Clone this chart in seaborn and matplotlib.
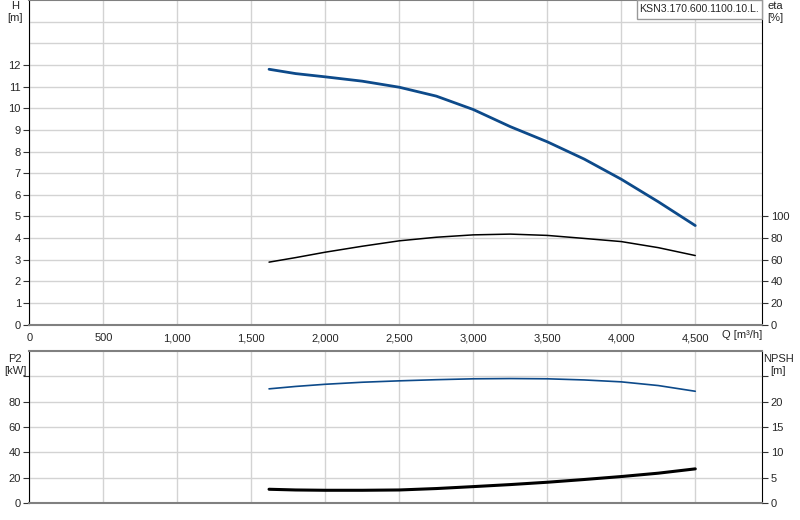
import matplotlib
matplotlib.use("Agg")
import matplotlib.pyplot as plt
from matplotlib.patches import Rectangle
import seaborn as sns
import pandas as pd

# pump curve data
q = [1620, 1800, 2000, 2250, 2500, 2750, 3000, 3250, 3500, 3750, 4000, 4250, 4500]
head = [11.8, 11.6, 11.45, 11.25, 10.97, 10.56, 9.94, 9.15, 8.45, 7.65, 6.72, 5.68, 4.58]
eta = [57.8, 62.0, 67.0, 72.5, 77.5, 80.8, 83.0, 83.7, 82.5, 79.7, 76.8, 71.2, 63.9]
p2 = [90.0, 91.9, 93.6, 95.2, 96.3, 97.2, 97.9, 98.1, 97.9, 97.0, 95.5, 92.6, 88.1]
npsh = [2.76, 2.62, 2.56, 2.56, 2.62, 2.9, 3.28, 3.68, 4.14, 4.68, 5.26, 5.92, 6.77]

q_ticks = [0, 500, 1000, 1500, 2000, 2500, 3000, 3500, 4000, 4500]
q_labels = ["0", "500", "1,000", "1,500", "2,000", "2,500", "3,000", "3,500", "4,000", "4,500"]
model_name = "KSN3.170.600.1100.10.L."

df = pd.DataFrame({"Q": q, "H": head, "eta": eta, "P2": p2, "NPSH": npsh})

sns.set_style("white")
plt.rcParams["font.family"] = ["Liberation Sans", "DejaVu Sans"]
plt.rcParams["font.size"] = 8

BLUE = "#0d4a8a"
GRID = "#d3d3d3"
SPINE_GRAY = "#808080"

W, H = 800, 520
fig = plt.figure(figsize=(8, 5.2), dpi=100)
x0, x1 = 29.3 / W, 762.3 / W
ax_top = fig.add_axes([x0, 1 - 324.7 / H, x1 - x0, 324.7 / H])
ax_bot = fig.add_axes([x0, 1 - 503.3 / H, x1 - x0, (503.3 - 350.7) / H])

xmax = 4953


def style_axes(ax):
    ax.set_xlim(0, xmax)
    ax.set_xticks(q_ticks)
    ax.grid(True, color=GRID, lw=1)
    ax.set_axisbelow(True)
    for s in ["top", "bottom"]:
        ax.spines[s].set_color(SPINE_GRAY)
        ax.spines[s].set_linewidth(1.5)
    ax.spines["left"].set_color("black")
    ax.spines["right"].set_color("black")
    ax.tick_params(axis="both", length=4, width=0.8, color="#333333", pad=2,
                   labelsize=8)
    ax.set_xlabel("")
    ax.set_ylabel("")


def style_twin(ax):
    ax.set_ylabel("")
    ax.grid(False)
    for s in ax.spines.values():
        s.set_visible(False)
    ax.tick_params(axis="y", length=4, width=0.8, color="#333333", pad=2, labelsize=8)


# --- top chart: head and efficiency ---
sns.lineplot(data=df, x="Q", y="H", ax=ax_top, color=BLUE, lw=2)
style_axes(ax_top)
ax_top.set_ylim(0, 15)
ax_top.set_yticks(range(0, 13))
ax_top.set_yticks([13, 14], minor=True)
ax_top.tick_params(axis="y", which="minor", length=0)
ax_top.grid(True, which="minor", axis="y", color=GRID, lw=1)
ax_top.set_xticklabels(q_labels)

ax_eta = ax_top.twinx()
sns.lineplot(data=df, x="Q", y="eta", ax=ax_eta, color="black", lw=1.1)
ax_eta.set_ylim(0, 300)
ax_eta.set_yticks(range(0, 101, 20))
style_twin(ax_eta)

fig.text(15 / W, 1 - 12 / H, "H\n[m]", ha="center", va="center", fontsize=8,
         linespacing=1.2)
fig.text(775 / W, 1 - 12 / H, "eta\n[%]", ha="center", va="center", fontsize=8,
         linespacing=1.2)
fig.text(722 / W, 1 - 335 / H, "Q [m³/h]", ha="left", va="center", fontsize=8)

# model name box in the top right corner
fig.patches.append(Rectangle((637 / W, 1 - 19 / H), 125 / W, 19 / H,
                             transform=fig.transFigure, fc="white", ec="#999999",
                             lw=1, zorder=5))
fig.text(699.5 / W, 1 - 9.5 / H, model_name, ha="center", va="center",
         fontsize=7.6, zorder=6)

# --- bottom chart: power and NPSH ---
sns.lineplot(data=df, x="Q", y="P2", ax=ax_bot, color=BLUE, lw=1.2)
style_axes(ax_bot)
ax_bot.set_ylim(0, 120)
ax_bot.set_yticks(range(0, 101, 20))
ax_bot.set_yticklabels(["0", "20", "40", "60", "80", ""])
ax_bot.set_xticklabels([])
ax_bot.tick_params(axis="x", length=0)

ax_npsh = ax_bot.twinx()
sns.lineplot(data=df, x="Q", y="NPSH", ax=ax_npsh, color="black", lw=2.2)
ax_npsh.set_ylim(0, 30)
ax_npsh.set_yticks(range(0, 26, 5))
ax_npsh.set_yticklabels(["0", "5", "10", "15", "20", ""])
style_twin(ax_npsh)

fig.text(15 / W, 1 - 365 / H, "P2\n[kW]", ha="center", va="center", fontsize=8,
         linespacing=1.2)
fig.text(778 / W, 1 - 365 / H, "NPSH\n[m]", ha="center", va="center", fontsize=8,
         linespacing=1.2)

fig.savefig("out.png", dpi=100)
